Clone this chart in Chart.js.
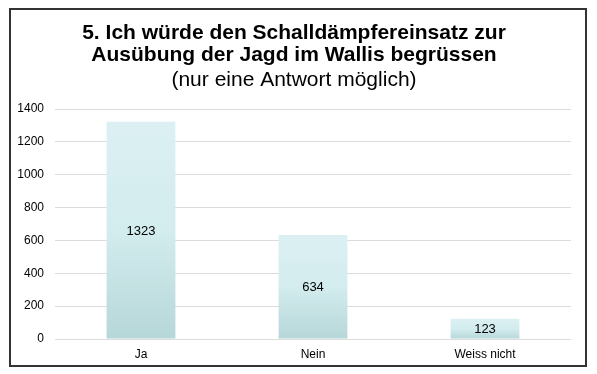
<!DOCTYPE html>
<html>
<head>
<meta charset="utf-8">
<script src="https://cdn.jsdelivr.net/npm/chart.js@4"></script>
<style>
    html, body { margin: 0; padding: 0; background: #fff; }
    #frame {
        position: absolute;
        left: 9px;
        top: 8px;
        width: 574px;
        height: 355px;
        border: 2px solid #333;
    }
</style>
</head>
<body>
<div id="frame"><canvas id="chart"></canvas></div>
<script>
// Data
const categories = ['Ja', 'Nein', 'Weiss nicht'];
const answers = [1323, 634, 123];
const yTicks = [0, 200, 400, 600, 800, 1000, 1200, 1400];

const titleLines = [
    '5. Ich würde den Schalldämpfereinsatz zur',
    'Ausübung der Jagd im Wallis begrüssen'
];
const subtitleText = '(nur eine Antwort möglich)';

const FONT = '"Liberation Sans", Arial, sans-serif';

// Vertical gradient per bar: light at the top, darker teal at the base
function barGradient(context) {
    const chart = context.chart;
    const yScale = chart.scales.y;
    if (!yScale || context.raw === undefined) return '#cde7e9';
    const top = yScale.getPixelForValue(context.raw);
    const bottom = yScale.getPixelForValue(0);
    if (!isFinite(top) || !isFinite(bottom) || top === bottom) return '#cde7e9';
    const g = chart.ctx.createLinearGradient(0, top, 0, bottom);
    g.addColorStop(0, '#dcf0f3');
    g.addColorStop(0.5, '#d3ecee');
    g.addColorStop(1, '#b6d7d8');
    return g;
}

// Value label in the middle of each bar
const centerLabels = {
    id: 'centerLabels',
    afterDatasetsDraw(chart) {
        const ctx = chart.ctx;
        const meta = chart.getDatasetMeta(0);
        ctx.save();
        ctx.font = '13px ' + FONT;
        ctx.fillStyle = '#000';
        ctx.textAlign = 'center';
        ctx.textBaseline = 'middle';
        meta.data.forEach((bar, i) => {
            const mid = (bar.y + bar.base) / 2;
            ctx.fillText(String(answers[i]), bar.x, mid + 1);
        });
        ctx.restore();
    }
};

const ctx = document.getElementById('chart').getContext('2d');

new Chart(ctx, {
    type: 'bar',
    data: {
        labels: categories,
        datasets: [{
            data: answers,
            backgroundColor: barGradient,
            borderWidth: 0,
            categoryPercentage: 1,
            barPercentage: 0.4
        }]
    },
    options: {
        responsive: true,
        maintainAspectRatio: false,
        animation: false,
        layout: {
            padding: { left: 6, right: 14, top: 0, bottom: 0 }
        },
        plugins: {
            legend: { display: false },
            tooltip: { enabled: false },
            title: {
                display: true,
                text: titleLines,
                color: '#000',
                font: { family: FONT, size: 21, weight: 'bold', lineHeight: 1.05 },
                padding: { top: 12, bottom: 3 }
            },
            subtitle: {
                display: true,
                text: subtitleText,
                color: '#000',
                font: { family: FONT, size: 21, weight: 'normal', lineHeight: 1.05 },
                padding: { top: 0, bottom: 18 }
            }
        },
        scales: {
            x: {
                grid: { display: false, drawTicks: false },
                border: { display: false },
                afterFit(axis) { axis.height = 26; },
                ticks: {
                    color: '#000',
                    padding: 8,
                    font: { family: FONT, size: 12 }
                }
            },
            y: {
                min: 0,
                max: 1400,
                afterBuildTicks(axis) {
                    axis.ticks = yTicks.map(v => ({ value: v }));
                },
                afterFit(axis) { axis.width = 38; },
                grid: { color: '#dcdcdc', lineWidth: 1, drawTicks: false },
                border: { display: false },
                ticks: {
                    color: '#000',
                    padding: 11,
                    font: { family: FONT, size: 12 },
                    callback: value => String(value)
                }
            }
        }
    },
    plugins: [centerLabels]
});
</script>
</body>
</html>
